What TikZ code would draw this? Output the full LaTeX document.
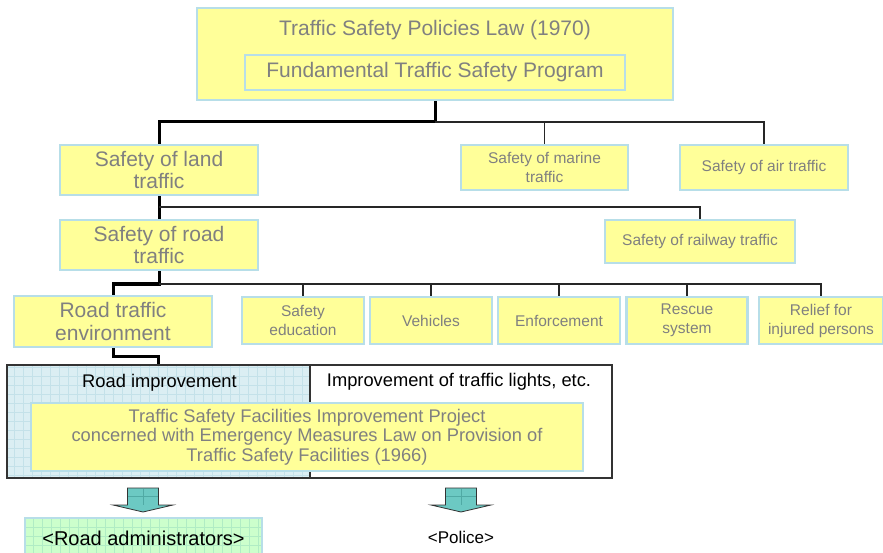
\documentclass[tikz,border=0pt]{standalone}
\usepackage{fontspec}
\setmainfont{Liberation Sans}
\usepackage{tikz}
\usetikzlibrary{calc}
\usetikzlibrary{positioning}
\definecolor{boxfill}{RGB}{255,255,153}
\definecolor{boxline}{RGB}{183,222,232}
\definecolor{boxtext}{RGB}{128,128,128}
\definecolor{roadfill}{RGB}{219,238,243}
\definecolor{roadgrid}{RGB}{196,225,233}
\definecolor{adminfill}{RGB}{204,255,204}
\definecolor{admingrid}{RGB}{176,236,196}
\definecolor{arrowfill}{RGB}{108,201,195}
\definecolor{arrowgrid}{RGB}{80,170,165}
\newcommand{\fbig}{\fontsize{21}{22.5}\selectfont}
\newcommand{\fmid}{\fontsize{18.3}{19.5}\selectfont}
\newcommand{\fsmall}{\fontsize{15.5}{19}\selectfont}
\newcommand{\fadmin}{\fontsize{20}{22}\selectfont}
\newcommand{\fpolice}{\fontsize{17}{19}\selectfont}
\tikzset{tiles/.style={path picture={\draw[#1, line width=0.6pt, step=9pt] (path picture bounding box.south west) grid (path picture bounding box.north east);}}}
\begin{document}
\begin{tikzpicture}[x=1pt,y=-1pt,semithick]
	\tikzstyle{yel}=[draw=boxline, line width=2.5pt, fill=boxfill, text=boxtext, align=center, inner sep=0pt]
	\tikzstyle{part}=[draw=black!80, line width=1.2pt, inner sep=0pt, minimum height=113]
	\tikzstyle{trunk}=[line width=3pt]
	\tikzstyle{branch}=[line width=1.2pt, black!85]
	\useasboundingbox (0,0) rectangle (883,553);
	\node[yel, minimum width=476, minimum height=92] (L) at (435,54) {};
	\node[text=boxtext, font=\fbig] (T) at (435,30) {Traffic Safety Policies Law (1970)};
	\node[yel, minimum width=380, minimum height=35, font=\fbig] (P) at (435,72.5) {\raisebox{-2pt}{Fundamental Traffic Safety Program}};
	\node[yel, minimum width=198, minimum height=50, font=\fbig] (land) at (159,170) {Safety of land\\traffic};
	\node[yel, minimum width=167, minimum height=45, font=\fsmall] (marine) at (544.5,167.5) {Safety of marine\\traffic};
	\node[yel, minimum width=168, minimum height=45, font=\fsmall] (air) at (764,167.5) {Safety of air traffic};
	\node[yel, minimum width=198, minimum height=50, font=\fbig] (road) at (159,245) {Safety of road\\traffic};
	\node[yel, minimum width=190, minimum height=43, font=\fsmall] (rail) at (700,241.5) {Safety of railway traffic};
	\node[yel, minimum width=198, minimum height=51, font=\fbig] (env) at (113,321.5) {Road traffic\\environment};
	\node[yel, minimum width=122, minimum height=47, font=\fsmall] (edu) at (303,320.5) {Safety\\education};
	\node[yel, minimum width=122, minimum height=47, font=\fsmall] (veh) at (431,320.5) {Vehicles};
	\node[yel, minimum width=122, minimum height=47, font=\fsmall] (enf) at (559,320.5) {Enforcement};
	\node[yel, minimum width=121, minimum height=47, font=\fsmall] (res) at (687,320.5) {Rescue\\system};
	\node[yel, minimum width=124, minimum height=47, font=\fsmall] (relief) at (821,320.5) {Relief for\\injured persons};
	\node[part, fill=roadfill, tiles=roadgrid, minimum width=303] (roadpart) at (158.5,421.5) {};
	\node[part, fill=white, minimum width=302] (lightpart) at (461,421.5) {};
	\node[font=\fmid] (impr) at (159.5,383) {Road improvement};
	\node[font=\fmid] (lights) at (459,382) {Improvement of traffic lights, etc.};
	\node[yel, minimum width=552, minimum height=68, font=\fmid] (proj) at (307,437) {Traffic Safety Facilities Improvement Project\\concerned with Emergency Measures Law on Provision of\\Traffic Safety Facilities (1966)};
	\node[draw=boxline, line width=2pt, fill=adminfill, tiles=admingrid, minimum width=237, minimum height=40, inner sep=0pt, font=\fadmin] (admin) at (143.5,538) {<Road administrators>};
	\node[font=\fpolice] (police) at (461,537) {<Police>};
	\coordinate (b1) at (435,122);
	\coordinate (b2) at (159,207);
	\coordinate (b3) at (159,284);
	\draw[trunk] (L.south) -- (b1) -| (land.north);
	\draw[branch] (b1) -| (air.north);
	\draw[branch] (marine.north) -- (marine.north |- b1);
	\draw[trunk] (land.south) -- (road.north);
	\draw[branch] (b2) -| (rail.north);
	\draw[trunk] (road.south) -- (b3) -| (env.north);
	\draw[branch] (b3) -| (relief.north);
	\foreach \n in {edu,veh,enf,res}
		\draw[branch] (\n.north) -- (\n.north |- b3);
	\draw[trunk] (env.south) -- ++(0,8) -| (roadpart.north);
	\foreach \x in {143,461}{
		\draw[black!80, fill=arrowfill, line width=0.8pt] (\x-15.5,488) -- (\x+15.5,488) -- (\x+15.5,505) -- (\x+30,505) -- (\x,512) -- (\x-30,505) -- (\x-15.5,505) -- cycle;
		\draw[arrowgrid, line width=0.6pt] (\x,489) -- (\x,505) (\x-15,496.5) -- (\x+15,496.5);
	}
\end{tikzpicture}
\end{document}
